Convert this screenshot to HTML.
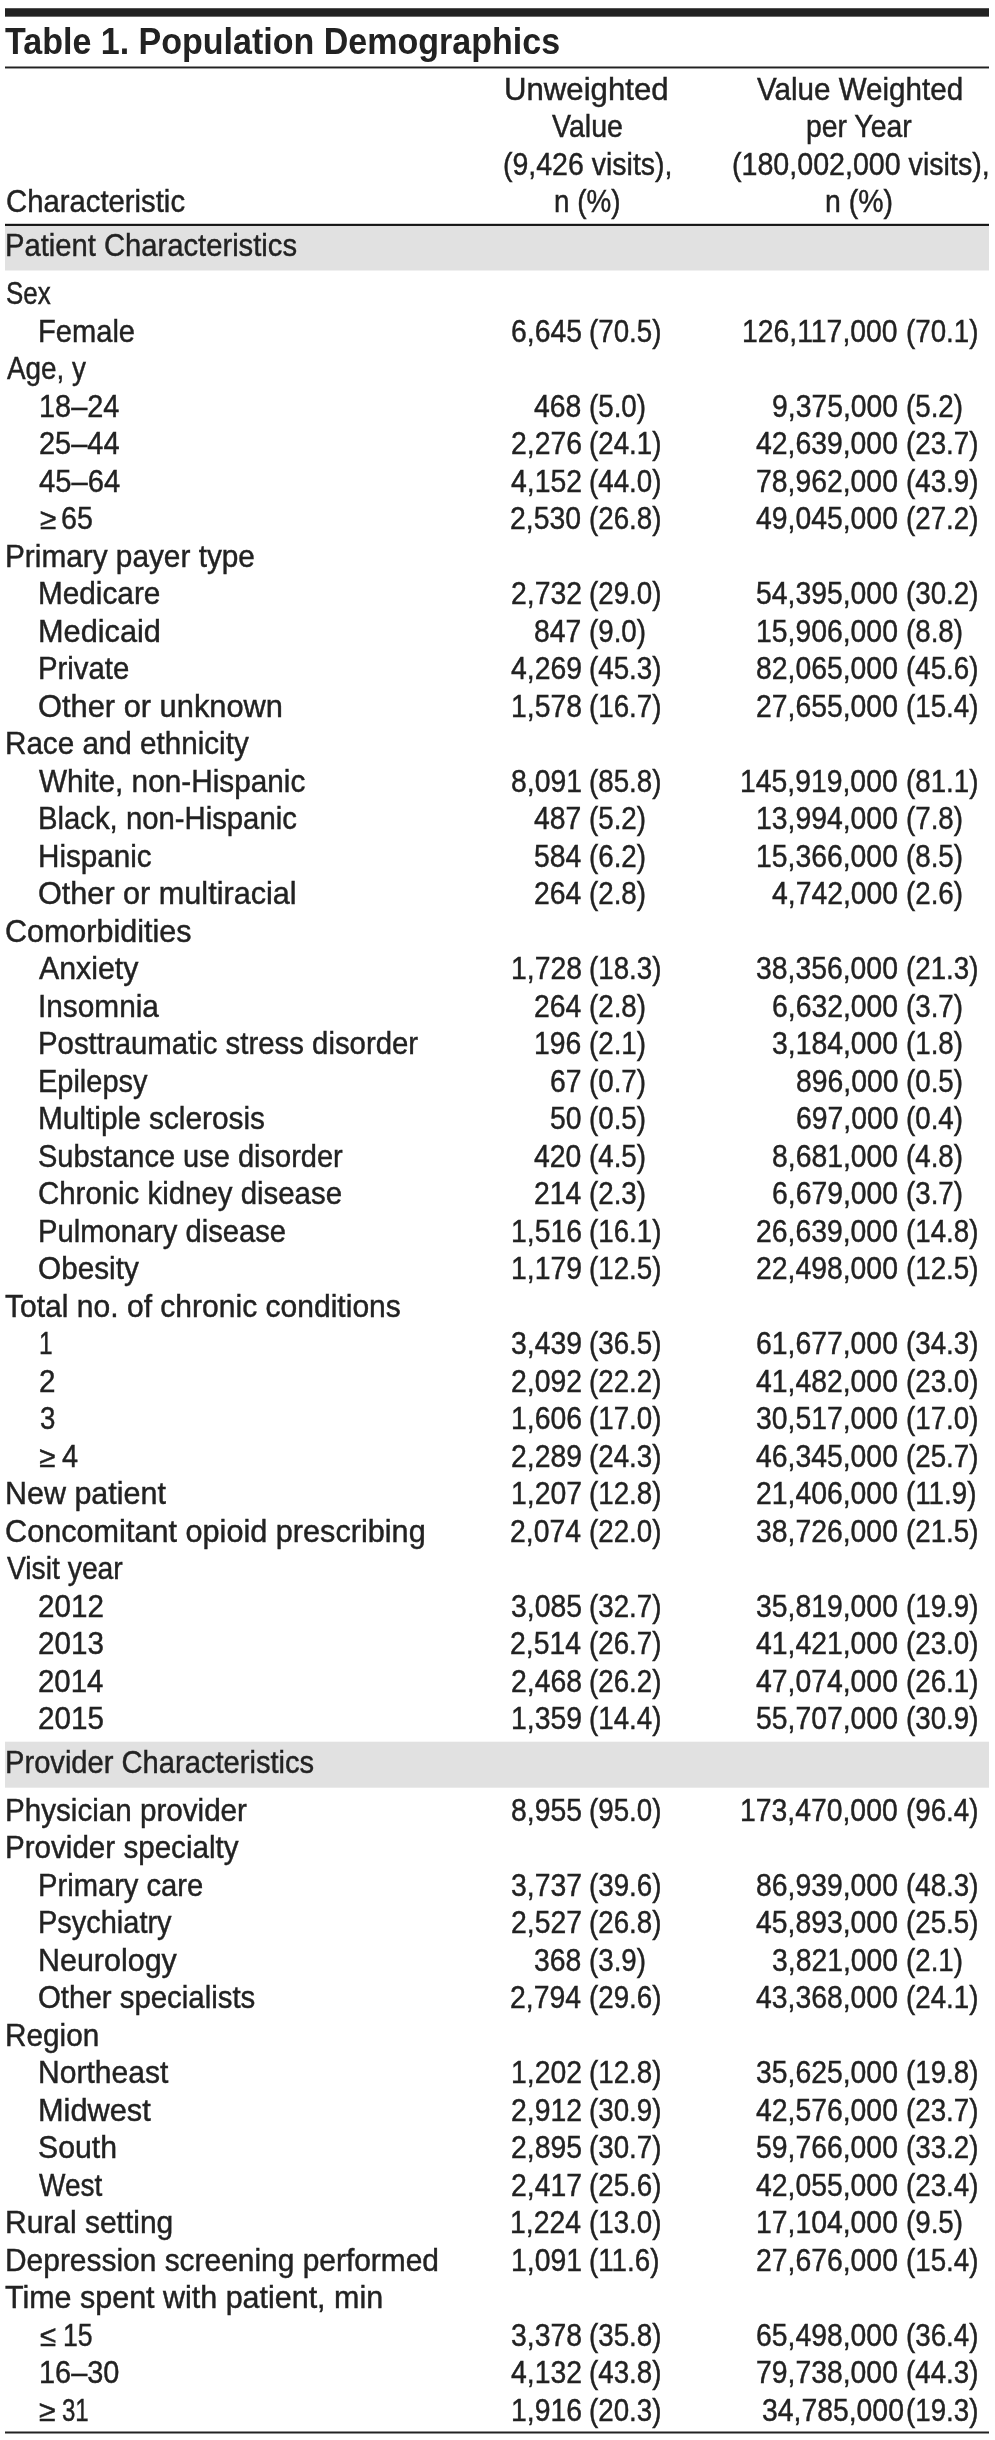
<!DOCTYPE html>
<html><head><meta charset="utf-8"><style>
html,body{margin:0;padding:0;background:#fff;}
body{width:995px;height:2440px;position:relative;overflow:hidden;}
.k{position:absolute;}
.w{position:absolute;left:0;top:0;width:995px;height:2440px;will-change:transform;}
.t{position:absolute;white-space:nowrap;font-family:"Liberation Sans",sans-serif;color:#222;transform-origin:0 0;-webkit-text-stroke:0.45px #222;}
</style></head><body>
<div class="k" style="left:5.0px;top:225px;width:983.80px;height:1px;background:#fefefe"></div>
<div class="k" style="left:5.0px;top:226px;width:983.80px;height:44px;background:#e1e1e1"></div>
<div class="k" style="left:5.0px;top:270px;width:983.80px;height:1px;background:#f0f0f0"></div>
<div class="k" style="left:5.0px;top:1741px;width:983.80px;height:1px;background:#f6f6f6"></div>
<div class="k" style="left:5.0px;top:1742px;width:983.80px;height:45px;background:#e1e1e1"></div>
<div class="k" style="left:5.0px;top:1787px;width:983.80px;height:1px;background:#eaeaea"></div>
<div class="k" style="left:5.0px;top:8px;width:983.80px;height:1px;background:#535353"></div>
<div class="k" style="left:5.0px;top:9px;width:983.80px;height:7px;background:#222"></div>
<div class="k" style="left:5.0px;top:16px;width:983.80px;height:1px;background:#6b6b6b"></div>
<div class="k" style="left:5.0px;top:66px;width:983.80px;height:1px;background:#909090"></div>
<div class="k" style="left:5.0px;top:67px;width:983.80px;height:1px;background:#222"></div>
<div class="k" style="left:5.0px;top:68px;width:983.80px;height:1px;background:#9c9c9c"></div>
<div class="k" style="left:5.0px;top:223px;width:983.80px;height:1px;background:#d0d0d0"></div>
<div class="k" style="left:5.0px;top:224px;width:983.80px;height:1px;background:#151515"></div>
<div class="k" style="left:5.0px;top:225px;width:983.80px;height:1px;background:#1d1d1d"></div>
<div class="k" style="left:5.0px;top:2431px;width:983.80px;height:1px;background:#909090"></div>
<div class="k" style="left:5.0px;top:2432px;width:983.80px;height:1px;background:#222"></div>
<div class="k" style="left:5.0px;top:2433px;width:983.80px;height:1px;background:#909090"></div>
<div class="w">
<div class="t" style="left:5.20px;top:23.25px;font-size:37.5px;line-height:37.5px;transform:scaleX(0.9071);font-weight:bold;-webkit-text-stroke:0">Table 1. Population Demographics</div>
<div class="t" style="left:5.63px;top:185.00px;font-size:32.0px;line-height:32.0px;transform:scaleX(0.9152)">Characteristic</div>
<div class="t" style="left:504.05px;top:73.00px;font-size:32.0px;line-height:32.0px;transform:scaleX(0.9740)">Unweighted</div>
<div class="t" style="left:552.30px;top:110.00px;font-size:32.0px;line-height:32.0px;transform:scaleX(0.8929)">Value</div>
<div class="t" style="left:502.66px;top:148.00px;font-size:32.0px;line-height:32.0px;transform:scaleX(0.8906)">(9,426 visits),</div>
<div class="t" style="left:553.56px;top:185.00px;font-size:32.0px;line-height:32.0px;transform:scaleX(0.8695)">n (%)</div>
<div class="t" style="left:757.30px;top:73.00px;font-size:32.0px;line-height:32.0px;transform:scaleX(0.9246)">Value Weighted</div>
<div class="t" style="left:806.13px;top:110.00px;font-size:32.0px;line-height:32.0px;transform:scaleX(0.8857)">per Year</div>
<div class="t" style="left:731.96px;top:148.00px;font-size:32.0px;line-height:32.0px;transform:scaleX(0.8942)">(180,002,000 visits),</div>
<div class="t" style="left:825.42px;top:185.00px;font-size:32.0px;line-height:32.0px;transform:scaleX(0.8888)">n (%)</div>
<div class="t" style="left:5.22px;top:229.00px;font-size:32.0px;line-height:32.0px;transform:scaleX(0.9121)">Patient Characteristics</div>
<div class="t" style="left:5.22px;top:1746.00px;font-size:32.0px;line-height:32.0px;transform:scaleX(0.9103)">Provider Characteristics</div>
<div class="t" style="left:5.69px;top:277.00px;font-size:32.0px;line-height:32.0px;transform:scaleX(0.8109)">Sex</div>
<div class="t" style="left:37.53px;top:315.00px;font-size:32.0px;line-height:32.0px;transform:scaleX(0.9096)">Female</div>
<div class="t" style="left:510.70px;top:315.00px;font-size:32.0px;line-height:32.0px;transform:scaleX(0.8860)">6,645</div>
<div class="t" style="left:589.10px;top:315.00px;font-size:32.0px;line-height:32.0px;transform:scaleX(0.8665)">(70.5)</div>
<div class="t" style="left:742.44px;top:315.00px;font-size:32.0px;line-height:32.0px;transform:scaleX(0.8860)">126,117,000</div>
<div class="t" style="left:906.00px;top:315.00px;font-size:32.0px;line-height:32.0px;transform:scaleX(0.8665)">(70.1)</div>
<div class="t" style="left:6.50px;top:352.00px;font-size:32.0px;line-height:32.0px;transform:scaleX(0.8708)">Age, y</div>
<div class="t" style="left:39.29px;top:390.00px;font-size:32.0px;line-height:32.0px;transform:scaleX(0.9038)">18–24</div>
<div class="t" style="left:534.34px;top:390.00px;font-size:32.0px;line-height:32.0px;transform:scaleX(0.8860)">468</div>
<div class="t" style="left:589.10px;top:390.00px;font-size:32.0px;line-height:32.0px;transform:scaleX(0.8665)">(5.0)</div>
<div class="t" style="left:771.88px;top:390.00px;font-size:32.0px;line-height:32.0px;transform:scaleX(0.8860)">9,375,000</div>
<div class="t" style="left:906.00px;top:390.00px;font-size:32.0px;line-height:32.0px;transform:scaleX(0.8665)">(5.2)</div>
<div class="t" style="left:39.14px;top:427.00px;font-size:32.0px;line-height:32.0px;transform:scaleX(0.9056)">25–44</div>
<div class="t" style="left:510.70px;top:427.00px;font-size:32.0px;line-height:32.0px;transform:scaleX(0.8860)">2,276</div>
<div class="t" style="left:589.10px;top:427.00px;font-size:32.0px;line-height:32.0px;transform:scaleX(0.8665)">(24.1)</div>
<div class="t" style="left:756.11px;top:427.00px;font-size:32.0px;line-height:32.0px;transform:scaleX(0.8860)">42,639,000</div>
<div class="t" style="left:906.00px;top:427.00px;font-size:32.0px;line-height:32.0px;transform:scaleX(0.8665)">(23.7)</div>
<div class="t" style="left:38.84px;top:465.00px;font-size:32.0px;line-height:32.0px;transform:scaleX(0.9123)">45–64</div>
<div class="t" style="left:510.70px;top:465.00px;font-size:32.0px;line-height:32.0px;transform:scaleX(0.8860)">4,152</div>
<div class="t" style="left:589.10px;top:465.00px;font-size:32.0px;line-height:32.0px;transform:scaleX(0.8665)">(44.0)</div>
<div class="t" style="left:756.11px;top:465.00px;font-size:32.0px;line-height:32.0px;transform:scaleX(0.8860)">78,962,000</div>
<div class="t" style="left:906.00px;top:465.00px;font-size:32.0px;line-height:32.0px;transform:scaleX(0.8665)">(43.9)</div>
<div class="t" style="left:39.98px;top:503.75px;font-size:29.5px;line-height:29.5px;transform:scaleX(1.0034)">≥</div>
<div class="t" style="left:60.86px;top:502.00px;font-size:32.0px;line-height:32.0px;transform:scaleX(0.8934)">65</div>
<div class="t" style="left:510.26px;top:502.00px;font-size:32.0px;line-height:32.0px;transform:scaleX(0.8860)">2,530</div>
<div class="t" style="left:589.10px;top:502.00px;font-size:32.0px;line-height:32.0px;transform:scaleX(0.8665)">(26.8)</div>
<div class="t" style="left:756.11px;top:502.00px;font-size:32.0px;line-height:32.0px;transform:scaleX(0.8860)">49,045,000</div>
<div class="t" style="left:906.00px;top:502.00px;font-size:32.0px;line-height:32.0px;transform:scaleX(0.8665)">(27.2)</div>
<div class="t" style="left:4.57px;top:540.00px;font-size:32.0px;line-height:32.0px;transform:scaleX(0.9307)">Primary payer type</div>
<div class="t" style="left:38.38px;top:577.00px;font-size:32.0px;line-height:32.0px;transform:scaleX(0.9295)">Medicare</div>
<div class="t" style="left:510.70px;top:577.00px;font-size:32.0px;line-height:32.0px;transform:scaleX(0.8860)">2,732</div>
<div class="t" style="left:589.10px;top:577.00px;font-size:32.0px;line-height:32.0px;transform:scaleX(0.8665)">(29.0)</div>
<div class="t" style="left:756.11px;top:577.00px;font-size:32.0px;line-height:32.0px;transform:scaleX(0.8860)">54,395,000</div>
<div class="t" style="left:906.00px;top:577.00px;font-size:32.0px;line-height:32.0px;transform:scaleX(0.8665)">(30.2)</div>
<div class="t" style="left:38.30px;top:615.00px;font-size:32.0px;line-height:32.0px;transform:scaleX(0.9599)">Medicaid</div>
<div class="t" style="left:534.34px;top:615.00px;font-size:32.0px;line-height:32.0px;transform:scaleX(0.8860)">847</div>
<div class="t" style="left:589.10px;top:615.00px;font-size:32.0px;line-height:32.0px;transform:scaleX(0.8665)">(9.0)</div>
<div class="t" style="left:756.11px;top:615.00px;font-size:32.0px;line-height:32.0px;transform:scaleX(0.8860)">15,906,000</div>
<div class="t" style="left:906.00px;top:615.00px;font-size:32.0px;line-height:32.0px;transform:scaleX(0.8665)">(8.8)</div>
<div class="t" style="left:38.41px;top:652.00px;font-size:32.0px;line-height:32.0px;transform:scaleX(0.9165)">Private</div>
<div class="t" style="left:510.70px;top:652.00px;font-size:32.0px;line-height:32.0px;transform:scaleX(0.8860)">4,269</div>
<div class="t" style="left:589.10px;top:652.00px;font-size:32.0px;line-height:32.0px;transform:scaleX(0.8665)">(45.3)</div>
<div class="t" style="left:756.11px;top:652.00px;font-size:32.0px;line-height:32.0px;transform:scaleX(0.8860)">82,065,000</div>
<div class="t" style="left:906.00px;top:652.00px;font-size:32.0px;line-height:32.0px;transform:scaleX(0.8665)">(45.6)</div>
<div class="t" style="left:37.86px;top:690.00px;font-size:32.0px;line-height:32.0px;transform:scaleX(0.9631)">Other or unknown</div>
<div class="t" style="left:510.70px;top:690.00px;font-size:32.0px;line-height:32.0px;transform:scaleX(0.8860)">1,578</div>
<div class="t" style="left:589.10px;top:690.00px;font-size:32.0px;line-height:32.0px;transform:scaleX(0.8665)">(16.7)</div>
<div class="t" style="left:756.11px;top:690.00px;font-size:32.0px;line-height:32.0px;transform:scaleX(0.8860)">27,655,000</div>
<div class="t" style="left:906.00px;top:690.00px;font-size:32.0px;line-height:32.0px;transform:scaleX(0.8665)">(15.4)</div>
<div class="t" style="left:4.59px;top:727.00px;font-size:32.0px;line-height:32.0px;transform:scaleX(0.9257)">Race and ethnicity</div>
<div class="t" style="left:39.30px;top:765.00px;font-size:32.0px;line-height:32.0px;transform:scaleX(0.9299)">White, non-Hispanic</div>
<div class="t" style="left:510.70px;top:765.00px;font-size:32.0px;line-height:32.0px;transform:scaleX(0.8860)">8,091</div>
<div class="t" style="left:589.10px;top:765.00px;font-size:32.0px;line-height:32.0px;transform:scaleX(0.8665)">(85.8)</div>
<div class="t" style="left:740.34px;top:765.00px;font-size:32.0px;line-height:32.0px;transform:scaleX(0.8860)">145,919,000</div>
<div class="t" style="left:906.00px;top:765.00px;font-size:32.0px;line-height:32.0px;transform:scaleX(0.8665)">(81.1)</div>
<div class="t" style="left:38.41px;top:802.00px;font-size:32.0px;line-height:32.0px;transform:scaleX(0.9153)">Black, non-Hispanic</div>
<div class="t" style="left:534.34px;top:802.00px;font-size:32.0px;line-height:32.0px;transform:scaleX(0.8860)">487</div>
<div class="t" style="left:589.10px;top:802.00px;font-size:32.0px;line-height:32.0px;transform:scaleX(0.8665)">(5.2)</div>
<div class="t" style="left:756.11px;top:802.00px;font-size:32.0px;line-height:32.0px;transform:scaleX(0.8860)">13,994,000</div>
<div class="t" style="left:906.00px;top:802.00px;font-size:32.0px;line-height:32.0px;transform:scaleX(0.8665)">(7.8)</div>
<div class="t" style="left:38.38px;top:840.00px;font-size:32.0px;line-height:32.0px;transform:scaleX(0.9263)">Hispanic</div>
<div class="t" style="left:533.90px;top:840.00px;font-size:32.0px;line-height:32.0px;transform:scaleX(0.8860)">584</div>
<div class="t" style="left:589.10px;top:840.00px;font-size:32.0px;line-height:32.0px;transform:scaleX(0.8665)">(6.2)</div>
<div class="t" style="left:756.11px;top:840.00px;font-size:32.0px;line-height:32.0px;transform:scaleX(0.8860)">15,366,000</div>
<div class="t" style="left:906.00px;top:840.00px;font-size:32.0px;line-height:32.0px;transform:scaleX(0.8665)">(8.5)</div>
<div class="t" style="left:37.86px;top:877.00px;font-size:32.0px;line-height:32.0px;transform:scaleX(0.9569)">Other or multiracial</div>
<div class="t" style="left:533.90px;top:877.00px;font-size:32.0px;line-height:32.0px;transform:scaleX(0.8860)">264</div>
<div class="t" style="left:589.10px;top:877.00px;font-size:32.0px;line-height:32.0px;transform:scaleX(0.8665)">(2.8)</div>
<div class="t" style="left:771.88px;top:877.00px;font-size:32.0px;line-height:32.0px;transform:scaleX(0.8860)">4,742,000</div>
<div class="t" style="left:906.00px;top:877.00px;font-size:32.0px;line-height:32.0px;transform:scaleX(0.8665)">(2.6)</div>
<div class="t" style="left:5.47px;top:915.00px;font-size:32.0px;line-height:32.0px;transform:scaleX(0.9528)">Comorbidities</div>
<div class="t" style="left:39.30px;top:952.00px;font-size:32.0px;line-height:32.0px;transform:scaleX(0.9472)">Anxiety</div>
<div class="t" style="left:510.70px;top:952.00px;font-size:32.0px;line-height:32.0px;transform:scaleX(0.8860)">1,728</div>
<div class="t" style="left:589.10px;top:952.00px;font-size:32.0px;line-height:32.0px;transform:scaleX(0.8665)">(18.3)</div>
<div class="t" style="left:756.11px;top:952.00px;font-size:32.0px;line-height:32.0px;transform:scaleX(0.8860)">38,356,000</div>
<div class="t" style="left:906.00px;top:952.00px;font-size:32.0px;line-height:32.0px;transform:scaleX(0.8665)">(21.3)</div>
<div class="t" style="left:38.37px;top:990.00px;font-size:32.0px;line-height:32.0px;transform:scaleX(0.9314)">Insomnia</div>
<div class="t" style="left:533.90px;top:990.00px;font-size:32.0px;line-height:32.0px;transform:scaleX(0.8860)">264</div>
<div class="t" style="left:589.10px;top:990.00px;font-size:32.0px;line-height:32.0px;transform:scaleX(0.8665)">(2.8)</div>
<div class="t" style="left:771.88px;top:990.00px;font-size:32.0px;line-height:32.0px;transform:scaleX(0.8860)">6,632,000</div>
<div class="t" style="left:906.00px;top:990.00px;font-size:32.0px;line-height:32.0px;transform:scaleX(0.8665)">(3.7)</div>
<div class="t" style="left:38.41px;top:1027.00px;font-size:32.0px;line-height:32.0px;transform:scaleX(0.9174)">Posttraumatic stress disorder</div>
<div class="t" style="left:534.34px;top:1027.00px;font-size:32.0px;line-height:32.0px;transform:scaleX(0.8860)">196</div>
<div class="t" style="left:589.10px;top:1027.00px;font-size:32.0px;line-height:32.0px;transform:scaleX(0.8665)">(2.1)</div>
<div class="t" style="left:771.88px;top:1027.00px;font-size:32.0px;line-height:32.0px;transform:scaleX(0.8860)">3,184,000</div>
<div class="t" style="left:906.00px;top:1027.00px;font-size:32.0px;line-height:32.0px;transform:scaleX(0.8665)">(1.8)</div>
<div class="t" style="left:38.44px;top:1065.00px;font-size:32.0px;line-height:32.0px;transform:scaleX(0.9050)">Epilepsy</div>
<div class="t" style="left:550.11px;top:1065.00px;font-size:32.0px;line-height:32.0px;transform:scaleX(0.8860)">67</div>
<div class="t" style="left:589.10px;top:1065.00px;font-size:32.0px;line-height:32.0px;transform:scaleX(0.8665)">(0.7)</div>
<div class="t" style="left:795.52px;top:1065.00px;font-size:32.0px;line-height:32.0px;transform:scaleX(0.8860)">896,000</div>
<div class="t" style="left:906.00px;top:1065.00px;font-size:32.0px;line-height:32.0px;transform:scaleX(0.8665)">(0.5)</div>
<div class="t" style="left:38.37px;top:1102.00px;font-size:32.0px;line-height:32.0px;transform:scaleX(0.9316)">Multiple sclerosis</div>
<div class="t" style="left:549.67px;top:1102.00px;font-size:32.0px;line-height:32.0px;transform:scaleX(0.8860)">50</div>
<div class="t" style="left:589.10px;top:1102.00px;font-size:32.0px;line-height:32.0px;transform:scaleX(0.8665)">(0.5)</div>
<div class="t" style="left:795.52px;top:1102.00px;font-size:32.0px;line-height:32.0px;transform:scaleX(0.8860)">697,000</div>
<div class="t" style="left:906.00px;top:1102.00px;font-size:32.0px;line-height:32.0px;transform:scaleX(0.8665)">(0.4)</div>
<div class="t" style="left:38.39px;top:1140.00px;font-size:32.0px;line-height:32.0px;transform:scaleX(0.9064)">Substance use disorder</div>
<div class="t" style="left:533.90px;top:1140.00px;font-size:32.0px;line-height:32.0px;transform:scaleX(0.8860)">420</div>
<div class="t" style="left:589.10px;top:1140.00px;font-size:32.0px;line-height:32.0px;transform:scaleX(0.8665)">(4.5)</div>
<div class="t" style="left:771.88px;top:1140.00px;font-size:32.0px;line-height:32.0px;transform:scaleX(0.8860)">8,681,000</div>
<div class="t" style="left:906.00px;top:1140.00px;font-size:32.0px;line-height:32.0px;transform:scaleX(0.8665)">(4.8)</div>
<div class="t" style="left:37.92px;top:1177.00px;font-size:32.0px;line-height:32.0px;transform:scaleX(0.9188)">Chronic kidney disease</div>
<div class="t" style="left:533.90px;top:1177.00px;font-size:32.0px;line-height:32.0px;transform:scaleX(0.8860)">214</div>
<div class="t" style="left:589.10px;top:1177.00px;font-size:32.0px;line-height:32.0px;transform:scaleX(0.8665)">(2.3)</div>
<div class="t" style="left:771.88px;top:1177.00px;font-size:32.0px;line-height:32.0px;transform:scaleX(0.8860)">6,679,000</div>
<div class="t" style="left:906.00px;top:1177.00px;font-size:32.0px;line-height:32.0px;transform:scaleX(0.8665)">(3.7)</div>
<div class="t" style="left:38.42px;top:1215.00px;font-size:32.0px;line-height:32.0px;transform:scaleX(0.9111)">Pulmonary disease</div>
<div class="t" style="left:510.70px;top:1215.00px;font-size:32.0px;line-height:32.0px;transform:scaleX(0.8860)">1,516</div>
<div class="t" style="left:589.10px;top:1215.00px;font-size:32.0px;line-height:32.0px;transform:scaleX(0.8665)">(16.1)</div>
<div class="t" style="left:756.11px;top:1215.00px;font-size:32.0px;line-height:32.0px;transform:scaleX(0.8860)">26,639,000</div>
<div class="t" style="left:906.00px;top:1215.00px;font-size:32.0px;line-height:32.0px;transform:scaleX(0.8665)">(14.8)</div>
<div class="t" style="left:37.91px;top:1252.00px;font-size:32.0px;line-height:32.0px;transform:scaleX(0.9291)">Obesity</div>
<div class="t" style="left:510.70px;top:1252.00px;font-size:32.0px;line-height:32.0px;transform:scaleX(0.8860)">1,179</div>
<div class="t" style="left:589.10px;top:1252.00px;font-size:32.0px;line-height:32.0px;transform:scaleX(0.8665)">(12.5)</div>
<div class="t" style="left:756.11px;top:1252.00px;font-size:32.0px;line-height:32.0px;transform:scaleX(0.8860)">22,498,000</div>
<div class="t" style="left:906.00px;top:1252.00px;font-size:32.0px;line-height:32.0px;transform:scaleX(0.8665)">(12.5)</div>
<div class="t" style="left:5.03px;top:1290.00px;font-size:32.0px;line-height:32.0px;transform:scaleX(0.9389)">Total no. of chronic conditions</div>
<div class="t" style="left:39.17px;top:1327.00px;font-size:32.0px;line-height:32.0px;transform:scaleX(0.7655)">1</div>
<div class="t" style="left:510.70px;top:1327.00px;font-size:32.0px;line-height:32.0px;transform:scaleX(0.8860)">3,439</div>
<div class="t" style="left:589.10px;top:1327.00px;font-size:32.0px;line-height:32.0px;transform:scaleX(0.8665)">(36.5)</div>
<div class="t" style="left:756.11px;top:1327.00px;font-size:32.0px;line-height:32.0px;transform:scaleX(0.8860)">61,677,000</div>
<div class="t" style="left:906.00px;top:1327.00px;font-size:32.0px;line-height:32.0px;transform:scaleX(0.8665)">(34.3)</div>
<div class="t" style="left:39.31px;top:1365.00px;font-size:32.0px;line-height:32.0px;transform:scaleX(0.9267)">2</div>
<div class="t" style="left:510.70px;top:1365.00px;font-size:32.0px;line-height:32.0px;transform:scaleX(0.8860)">2,092</div>
<div class="t" style="left:589.10px;top:1365.00px;font-size:32.0px;line-height:32.0px;transform:scaleX(0.8665)">(22.2)</div>
<div class="t" style="left:756.11px;top:1365.00px;font-size:32.0px;line-height:32.0px;transform:scaleX(0.8860)">41,482,000</div>
<div class="t" style="left:906.00px;top:1365.00px;font-size:32.0px;line-height:32.0px;transform:scaleX(0.8665)">(23.0)</div>
<div class="t" style="left:39.84px;top:1402.00px;font-size:32.0px;line-height:32.0px;transform:scaleX(0.8645)">3</div>
<div class="t" style="left:510.70px;top:1402.00px;font-size:32.0px;line-height:32.0px;transform:scaleX(0.8860)">1,606</div>
<div class="t" style="left:589.10px;top:1402.00px;font-size:32.0px;line-height:32.0px;transform:scaleX(0.8665)">(17.0)</div>
<div class="t" style="left:756.11px;top:1402.00px;font-size:32.0px;line-height:32.0px;transform:scaleX(0.8860)">30,517,000</div>
<div class="t" style="left:906.00px;top:1402.00px;font-size:32.0px;line-height:32.0px;transform:scaleX(0.8665)">(17.0)</div>
<div class="t" style="left:39.33px;top:1441.75px;font-size:29.5px;line-height:29.5px;transform:scaleX(1.0000)">≥</div>
<div class="t" style="left:61.55px;top:1440.00px;font-size:32.0px;line-height:32.0px;transform:scaleX(0.9030)">4</div>
<div class="t" style="left:510.70px;top:1440.00px;font-size:32.0px;line-height:32.0px;transform:scaleX(0.8860)">2,289</div>
<div class="t" style="left:589.10px;top:1440.00px;font-size:32.0px;line-height:32.0px;transform:scaleX(0.8665)">(24.3)</div>
<div class="t" style="left:756.11px;top:1440.00px;font-size:32.0px;line-height:32.0px;transform:scaleX(0.8860)">46,345,000</div>
<div class="t" style="left:906.00px;top:1440.00px;font-size:32.0px;line-height:32.0px;transform:scaleX(0.8665)">(25.7)</div>
<div class="t" style="left:4.52px;top:1477.00px;font-size:32.0px;line-height:32.0px;transform:scaleX(0.9520)">New patient</div>
<div class="t" style="left:510.70px;top:1477.00px;font-size:32.0px;line-height:32.0px;transform:scaleX(0.8860)">1,207</div>
<div class="t" style="left:589.10px;top:1477.00px;font-size:32.0px;line-height:32.0px;transform:scaleX(0.8665)">(12.8)</div>
<div class="t" style="left:756.11px;top:1477.00px;font-size:32.0px;line-height:32.0px;transform:scaleX(0.8860)">21,406,000</div>
<div class="t" style="left:906.00px;top:1477.00px;font-size:32.0px;line-height:32.0px;transform:scaleX(0.8665)">(11.9)</div>
<div class="t" style="left:5.46px;top:1515.00px;font-size:32.0px;line-height:32.0px;transform:scaleX(0.9575)">Concomitant opioid prescribing</div>
<div class="t" style="left:510.26px;top:1515.00px;font-size:32.0px;line-height:32.0px;transform:scaleX(0.8860)">2,074</div>
<div class="t" style="left:589.10px;top:1515.00px;font-size:32.0px;line-height:32.0px;transform:scaleX(0.8665)">(22.0)</div>
<div class="t" style="left:756.11px;top:1515.00px;font-size:32.0px;line-height:32.0px;transform:scaleX(0.8860)">38,726,000</div>
<div class="t" style="left:906.00px;top:1515.00px;font-size:32.0px;line-height:32.0px;transform:scaleX(0.8665)">(21.5)</div>
<div class="t" style="left:6.90px;top:1552.00px;font-size:32.0px;line-height:32.0px;transform:scaleX(0.8834)">Visit year</div>
<div class="t" style="left:37.91px;top:1590.00px;font-size:32.0px;line-height:32.0px;transform:scaleX(0.9256)">2012</div>
<div class="t" style="left:510.70px;top:1590.00px;font-size:32.0px;line-height:32.0px;transform:scaleX(0.8860)">3,085</div>
<div class="t" style="left:589.10px;top:1590.00px;font-size:32.0px;line-height:32.0px;transform:scaleX(0.8665)">(32.7)</div>
<div class="t" style="left:756.11px;top:1590.00px;font-size:32.0px;line-height:32.0px;transform:scaleX(0.8860)">35,819,000</div>
<div class="t" style="left:906.00px;top:1590.00px;font-size:32.0px;line-height:32.0px;transform:scaleX(0.8665)">(19.9)</div>
<div class="t" style="left:37.91px;top:1627.00px;font-size:32.0px;line-height:32.0px;transform:scaleX(0.9256)">2013</div>
<div class="t" style="left:510.26px;top:1627.00px;font-size:32.0px;line-height:32.0px;transform:scaleX(0.8860)">2,514</div>
<div class="t" style="left:589.10px;top:1627.00px;font-size:32.0px;line-height:32.0px;transform:scaleX(0.8665)">(26.7)</div>
<div class="t" style="left:756.11px;top:1627.00px;font-size:32.0px;line-height:32.0px;transform:scaleX(0.8860)">41,421,000</div>
<div class="t" style="left:906.00px;top:1627.00px;font-size:32.0px;line-height:32.0px;transform:scaleX(0.8665)">(23.0)</div>
<div class="t" style="left:37.92px;top:1665.00px;font-size:32.0px;line-height:32.0px;transform:scaleX(0.9188)">2014</div>
<div class="t" style="left:510.70px;top:1665.00px;font-size:32.0px;line-height:32.0px;transform:scaleX(0.8860)">2,468</div>
<div class="t" style="left:589.10px;top:1665.00px;font-size:32.0px;line-height:32.0px;transform:scaleX(0.8665)">(26.2)</div>
<div class="t" style="left:756.11px;top:1665.00px;font-size:32.0px;line-height:32.0px;transform:scaleX(0.8860)">47,074,000</div>
<div class="t" style="left:906.00px;top:1665.00px;font-size:32.0px;line-height:32.0px;transform:scaleX(0.8665)">(26.1)</div>
<div class="t" style="left:37.91px;top:1702.00px;font-size:32.0px;line-height:32.0px;transform:scaleX(0.9256)">2015</div>
<div class="t" style="left:510.70px;top:1702.00px;font-size:32.0px;line-height:32.0px;transform:scaleX(0.8860)">1,359</div>
<div class="t" style="left:589.10px;top:1702.00px;font-size:32.0px;line-height:32.0px;transform:scaleX(0.8665)">(14.4)</div>
<div class="t" style="left:756.11px;top:1702.00px;font-size:32.0px;line-height:32.0px;transform:scaleX(0.8860)">55,707,000</div>
<div class="t" style="left:906.00px;top:1702.00px;font-size:32.0px;line-height:32.0px;transform:scaleX(0.8665)">(30.9)</div>
<div class="t" style="left:4.59px;top:1794.00px;font-size:32.0px;line-height:32.0px;transform:scaleX(0.9254)">Physician provider</div>
<div class="t" style="left:510.70px;top:1794.00px;font-size:32.0px;line-height:32.0px;transform:scaleX(0.8860)">8,955</div>
<div class="t" style="left:589.10px;top:1794.00px;font-size:32.0px;line-height:32.0px;transform:scaleX(0.8665)">(95.0)</div>
<div class="t" style="left:740.34px;top:1794.00px;font-size:32.0px;line-height:32.0px;transform:scaleX(0.8860)">173,470,000</div>
<div class="t" style="left:906.00px;top:1794.00px;font-size:32.0px;line-height:32.0px;transform:scaleX(0.8665)">(96.4)</div>
<div class="t" style="left:4.59px;top:1831.00px;font-size:32.0px;line-height:32.0px;transform:scaleX(0.9246)">Provider specialty</div>
<div class="t" style="left:38.42px;top:1869.00px;font-size:32.0px;line-height:32.0px;transform:scaleX(0.9112)">Primary care</div>
<div class="t" style="left:510.70px;top:1869.00px;font-size:32.0px;line-height:32.0px;transform:scaleX(0.8860)">3,737</div>
<div class="t" style="left:589.10px;top:1869.00px;font-size:32.0px;line-height:32.0px;transform:scaleX(0.8665)">(39.6)</div>
<div class="t" style="left:756.11px;top:1869.00px;font-size:32.0px;line-height:32.0px;transform:scaleX(0.8860)">86,939,000</div>
<div class="t" style="left:906.00px;top:1869.00px;font-size:32.0px;line-height:32.0px;transform:scaleX(0.8665)">(48.3)</div>
<div class="t" style="left:38.44px;top:1906.00px;font-size:32.0px;line-height:32.0px;transform:scaleX(0.9049)">Psychiatry</div>
<div class="t" style="left:510.70px;top:1906.00px;font-size:32.0px;line-height:32.0px;transform:scaleX(0.8860)">2,527</div>
<div class="t" style="left:589.10px;top:1906.00px;font-size:32.0px;line-height:32.0px;transform:scaleX(0.8665)">(26.8)</div>
<div class="t" style="left:756.11px;top:1906.00px;font-size:32.0px;line-height:32.0px;transform:scaleX(0.8860)">45,893,000</div>
<div class="t" style="left:906.00px;top:1906.00px;font-size:32.0px;line-height:32.0px;transform:scaleX(0.8665)">(25.5)</div>
<div class="t" style="left:38.32px;top:1944.00px;font-size:32.0px;line-height:32.0px;transform:scaleX(0.9515)">Neurology</div>
<div class="t" style="left:534.34px;top:1944.00px;font-size:32.0px;line-height:32.0px;transform:scaleX(0.8860)">368</div>
<div class="t" style="left:589.10px;top:1944.00px;font-size:32.0px;line-height:32.0px;transform:scaleX(0.8665)">(3.9)</div>
<div class="t" style="left:771.88px;top:1944.00px;font-size:32.0px;line-height:32.0px;transform:scaleX(0.8860)">3,821,000</div>
<div class="t" style="left:906.00px;top:1944.00px;font-size:32.0px;line-height:32.0px;transform:scaleX(0.8665)">(2.1)</div>
<div class="t" style="left:37.92px;top:1981.00px;font-size:32.0px;line-height:32.0px;transform:scaleX(0.9187)">Other specialists</div>
<div class="t" style="left:510.26px;top:1981.00px;font-size:32.0px;line-height:32.0px;transform:scaleX(0.8860)">2,794</div>
<div class="t" style="left:589.10px;top:1981.00px;font-size:32.0px;line-height:32.0px;transform:scaleX(0.8665)">(29.6)</div>
<div class="t" style="left:756.11px;top:1981.00px;font-size:32.0px;line-height:32.0px;transform:scaleX(0.8860)">43,368,000</div>
<div class="t" style="left:906.00px;top:1981.00px;font-size:32.0px;line-height:32.0px;transform:scaleX(0.8665)">(24.1)</div>
<div class="t" style="left:4.58px;top:2019.00px;font-size:32.0px;line-height:32.0px;transform:scaleX(0.9288)">Region</div>
<div class="t" style="left:38.35px;top:2056.00px;font-size:32.0px;line-height:32.0px;transform:scaleX(0.9388)">Northeast</div>
<div class="t" style="left:510.70px;top:2056.00px;font-size:32.0px;line-height:32.0px;transform:scaleX(0.8860)">1,202</div>
<div class="t" style="left:589.10px;top:2056.00px;font-size:32.0px;line-height:32.0px;transform:scaleX(0.8665)">(12.8)</div>
<div class="t" style="left:756.11px;top:2056.00px;font-size:32.0px;line-height:32.0px;transform:scaleX(0.8860)">35,625,000</div>
<div class="t" style="left:906.00px;top:2056.00px;font-size:32.0px;line-height:32.0px;transform:scaleX(0.8665)">(19.8)</div>
<div class="t" style="left:38.30px;top:2094.00px;font-size:32.0px;line-height:32.0px;transform:scaleX(0.9611)">Midwest</div>
<div class="t" style="left:510.70px;top:2094.00px;font-size:32.0px;line-height:32.0px;transform:scaleX(0.8860)">2,912</div>
<div class="t" style="left:589.10px;top:2094.00px;font-size:32.0px;line-height:32.0px;transform:scaleX(0.8665)">(30.9)</div>
<div class="t" style="left:756.11px;top:2094.00px;font-size:32.0px;line-height:32.0px;transform:scaleX(0.8860)">42,576,000</div>
<div class="t" style="left:906.00px;top:2094.00px;font-size:32.0px;line-height:32.0px;transform:scaleX(0.8665)">(23.7)</div>
<div class="t" style="left:38.36px;top:2131.00px;font-size:32.0px;line-height:32.0px;transform:scaleX(0.9440)">South</div>
<div class="t" style="left:510.70px;top:2131.00px;font-size:32.0px;line-height:32.0px;transform:scaleX(0.8860)">2,895</div>
<div class="t" style="left:589.10px;top:2131.00px;font-size:32.0px;line-height:32.0px;transform:scaleX(0.8665)">(30.7)</div>
<div class="t" style="left:756.11px;top:2131.00px;font-size:32.0px;line-height:32.0px;transform:scaleX(0.8860)">59,766,000</div>
<div class="t" style="left:906.00px;top:2131.00px;font-size:32.0px;line-height:32.0px;transform:scaleX(0.8665)">(33.2)</div>
<div class="t" style="left:39.30px;top:2169.00px;font-size:32.0px;line-height:32.0px;transform:scaleX(0.8740)">West</div>
<div class="t" style="left:510.70px;top:2169.00px;font-size:32.0px;line-height:32.0px;transform:scaleX(0.8860)">2,417</div>
<div class="t" style="left:589.10px;top:2169.00px;font-size:32.0px;line-height:32.0px;transform:scaleX(0.8665)">(25.6)</div>
<div class="t" style="left:756.11px;top:2169.00px;font-size:32.0px;line-height:32.0px;transform:scaleX(0.8860)">42,055,000</div>
<div class="t" style="left:906.00px;top:2169.00px;font-size:32.0px;line-height:32.0px;transform:scaleX(0.8665)">(23.4)</div>
<div class="t" style="left:4.56px;top:2206.00px;font-size:32.0px;line-height:32.0px;transform:scaleX(0.9364)">Rural setting</div>
<div class="t" style="left:510.26px;top:2206.00px;font-size:32.0px;line-height:32.0px;transform:scaleX(0.8860)">1,224</div>
<div class="t" style="left:589.10px;top:2206.00px;font-size:32.0px;line-height:32.0px;transform:scaleX(0.8665)">(13.0)</div>
<div class="t" style="left:756.11px;top:2206.00px;font-size:32.0px;line-height:32.0px;transform:scaleX(0.8860)">17,104,000</div>
<div class="t" style="left:906.00px;top:2206.00px;font-size:32.0px;line-height:32.0px;transform:scaleX(0.8665)">(9.5)</div>
<div class="t" style="left:4.56px;top:2244.00px;font-size:32.0px;line-height:32.0px;transform:scaleX(0.9349)">Depression screening performed</div>
<div class="t" style="left:510.70px;top:2244.00px;font-size:32.0px;line-height:32.0px;transform:scaleX(0.8860)">1,091</div>
<div class="t" style="left:589.10px;top:2244.00px;font-size:32.0px;line-height:32.0px;transform:scaleX(0.8665)">(11.6)</div>
<div class="t" style="left:756.11px;top:2244.00px;font-size:32.0px;line-height:32.0px;transform:scaleX(0.8860)">27,676,000</div>
<div class="t" style="left:906.00px;top:2244.00px;font-size:32.0px;line-height:32.0px;transform:scaleX(0.8665)">(15.4)</div>
<div class="t" style="left:5.02px;top:2281.00px;font-size:32.0px;line-height:32.0px;transform:scaleX(0.9519)">Time spent with patient, min</div>
<div class="t" style="left:39.54px;top:2320.75px;font-size:29.5px;line-height:29.5px;transform:scaleX(0.9927)">≤</div>
<div class="t" style="left:63.33px;top:2319.00px;font-size:32.0px;line-height:32.0px;transform:scaleX(0.8329)">15</div>
<div class="t" style="left:510.70px;top:2319.00px;font-size:32.0px;line-height:32.0px;transform:scaleX(0.8860)">3,378</div>
<div class="t" style="left:589.10px;top:2319.00px;font-size:32.0px;line-height:32.0px;transform:scaleX(0.8665)">(35.8)</div>
<div class="t" style="left:756.11px;top:2319.00px;font-size:32.0px;line-height:32.0px;transform:scaleX(0.8860)">65,498,000</div>
<div class="t" style="left:906.00px;top:2319.00px;font-size:32.0px;line-height:32.0px;transform:scaleX(0.8665)">(36.4)</div>
<div class="t" style="left:38.69px;top:2356.00px;font-size:32.0px;line-height:32.0px;transform:scaleX(0.9038)">16–30</div>
<div class="t" style="left:510.70px;top:2356.00px;font-size:32.0px;line-height:32.0px;transform:scaleX(0.8860)">4,132</div>
<div class="t" style="left:589.10px;top:2356.00px;font-size:32.0px;line-height:32.0px;transform:scaleX(0.8665)">(43.8)</div>
<div class="t" style="left:756.11px;top:2356.00px;font-size:32.0px;line-height:32.0px;transform:scaleX(0.8860)">79,738,000</div>
<div class="t" style="left:906.00px;top:2356.00px;font-size:32.0px;line-height:32.0px;transform:scaleX(0.8665)">(44.3)</div>
<div class="t" style="left:39.06px;top:2395.75px;font-size:29.5px;line-height:29.5px;transform:scaleX(1.0237)">≥</div>
<div class="t" style="left:62.25px;top:2394.00px;font-size:32.0px;line-height:32.0px;transform:scaleX(0.7508)">31</div>
<div class="t" style="left:510.70px;top:2394.00px;font-size:32.0px;line-height:32.0px;transform:scaleX(0.8860)">1,916</div>
<div class="t" style="left:589.10px;top:2394.00px;font-size:32.0px;line-height:32.0px;transform:scaleX(0.8665)">(20.3)</div>
<div class="t" style="left:761.81px;top:2394.00px;font-size:32.0px;line-height:32.0px;transform:scaleX(0.8860)">34,785,000</div>
<div class="t" style="left:906.00px;top:2394.00px;font-size:32.0px;line-height:32.0px;transform:scaleX(0.8665)">(19.3)</div>
</div>
</body></html>
